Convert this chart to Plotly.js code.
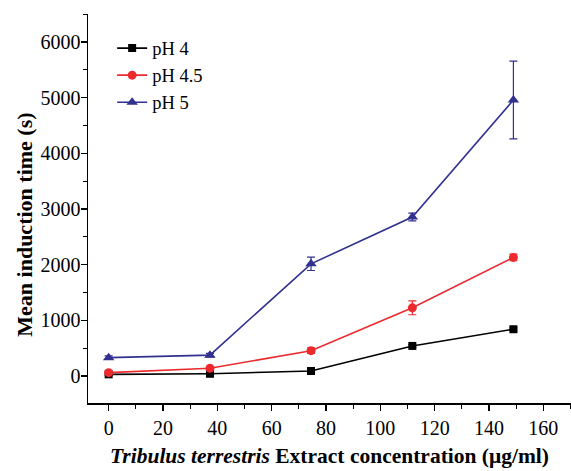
<!DOCTYPE html>
<html>
<head>
<meta charset="utf-8">
<script src="https://cdn.plot.ly/plotly-3.0.1.min.js"></script>
<style>html,body{margin:0;padding:0;background:#fff;}#chart{width:571px;height:471px;}</style>
</head>
<body>
<div id="chart"></div>
<script>
const concentration = [0, 37.3, 74.5, 111.8, 149];
const ph4 = [30, 40, 90, 540, 840];
const ph4Err = [15, 15, 20, 25, 25];
const ph45 = [60, 140, 455, 1225, 2130];
const ph45Err = [20, 25, 50, 125, 60];
const ph5 = [330, 375, 2015, 2856, 4958];
const ph5Err = [30, 30, 120, 70, 700];
const seriesNames = ['pH 4', 'pH 4.5', 'pH 5'];
const xTickVals = [0, 20, 40, 60, 80, 100, 120, 140, 160];
const yTickVals = [0, 1000, 2000, 3000, 4000, 5000, 6000];
const xTitle = '<b><i>Tribulus terrestris</i> Extract concentration (μg/ml)</b>';
const yTitle = '<b>Mean induction time (s)</b>';

function trace(y, err, name, color, symbol, size) {
  return {
    x: concentration, y: y, name: name, type: 'scatter', mode: 'lines+markers',
    line: {color: color, width: 1.6},
    marker: {color: color, symbol: symbol, size: size},
    error_y: {type: 'data', array: err, visible: true, color: color, thickness: 1.2, width: 4}
  };
}
const data = [
  trace(ph4, ph4Err, seriesNames[0], '#000000', 'square', 8),
  trace(ph45, ph45Err, seriesNames[1], '#ec2a2e', 'circle', 9),
  trace(ph5, ph5Err, seriesNames[2], '#31318f', 'triangle-up', 10)
];
const fam = 'Liberation Serif, Times New Roman, serif';
const layout = {
  width: 571, height: 471,
  margin: {l: 88, r: 0, t: 14, b: 68},
  paper_bgcolor: '#fff', plot_bgcolor: '#fff',
  font: {family: fam, size: 18, color: '#000'},
  showlegend: true,
  legend: {x: 0.05, y: 0.96, xanchor: 'left', yanchor: 'top', bgcolor: 'rgba(0,0,0,0)',
           font: {family: fam, size: 18.5, color: '#000'}, tracegroupgap: 0, itemwidth: 30},
  xaxis: {
    range: [-7.6, 170.2], tickvals: xTickVals, ticktext: xTickVals.map(String),
    showgrid: false, zeroline: false, showline: true, linecolor: '#000', linewidth: 1.5,
    ticks: 'outside', ticklen: 6, tickwidth: 1.5, tickcolor: '#000',
    minor: {dtick: 10, tick0: 0, ticks: 'outside', ticklen: 4, tickwidth: 1.2, tickcolor: '#000'},
    tickfont: {family: fam, size: 20, color: '#000'},
    title: {text: xTitle, standoff: 10,
            font: {family: fam, size: 21.5, color: '#000'}}
  },
  yaxis: {
    range: [-485, 6503], tickvals: yTickVals, ticktext: yTickVals.map(String),
    showgrid: false, zeroline: false, showline: true, linecolor: '#000', linewidth: 1.5,
    ticks: 'outside', ticklen: 6, tickwidth: 1.5, tickcolor: '#000', ticklabelstandoff: -4,
    minor: {dtick: 500, tick0: 0, ticks: 'outside', ticklen: 4, tickwidth: 1.2, tickcolor: '#000'},
    tickfont: {family: fam, size: 20, color: '#000'}
  },
  annotations: [{
    text: yTitle, textangle: -90, showarrow: false,
    xref: 'paper', yref: 'paper', x: -0.131, y: 0.4576, xanchor: 'center', yanchor: 'middle',
    font: {family: fam, size: 22, color: '#000'}
  }]
};
Plotly.newPlot('chart', data, layout, {displayModeBar: false, staticPlot: true});
</script>
</body>
</html>
